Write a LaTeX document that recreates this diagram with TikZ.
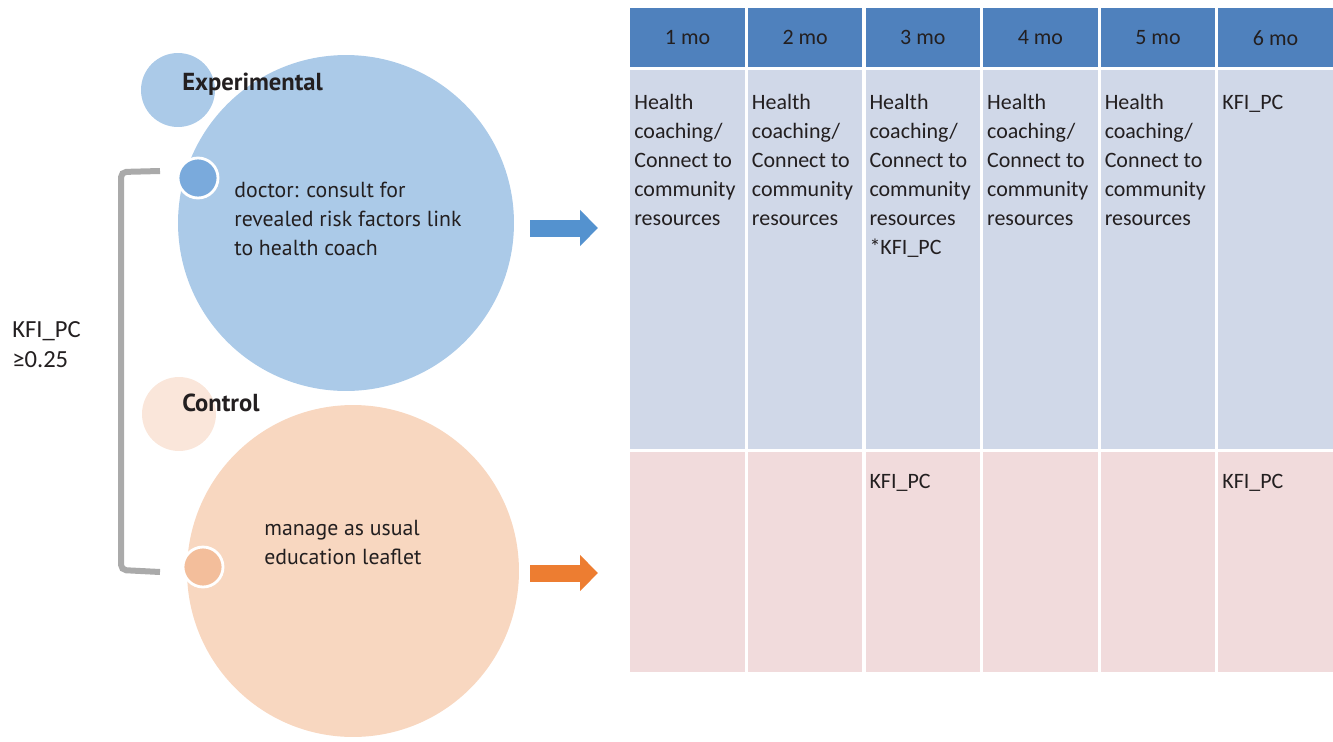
\documentclass[tikz,border=0pt]{standalone}
\usepackage{fontspec}
\setmainfont{Carlito}
\newfontfamily\labelfont{PT Sans}
\usetikzlibrary{positioning,arrows.meta}

\definecolor{bigblue}{RGB}{171,202,232}
\definecolor{dotblue}{RGB}{122,170,220}
\definecolor{bigpeach}{RGB}{248,215,192}
\definecolor{palepeach}{RGB}{250,230,218}
\definecolor{dotpeach}{RGB}{243,190,155}
\definecolor{arrowblue}{RGB}{84,146,207}
\definecolor{arroworange}{RGB}{237,125,49}
\definecolor{headblue}{RGB}{79,129,189}
\definecolor{expfill}{RGB}{208,216,232}
\definecolor{ctlfill}{RGB}{241,219,220}
\definecolor{bracketgray}{RGB}{170,170,170}
\definecolor{ink}{RGB}{35,31,32}

\begin{document}
\begin{tikzpicture}[x=0.02cm,y=-0.02cm,text=ink]
  \tikzstyle{disc}=[circle,inner sep=0pt]
  \tikzstyle{dot}=[circle,draw=white,line width=1.6pt,minimum size=0.8cm,inner sep=0pt]
  \tikzstyle{cell}=[anchor=north west,inner sep=0pt,minimum width=2.29cm]
  \tikzstyle{celltext}=[anchor=base west,align=left,inner sep=0pt,font=\fontsize{12.5}{16.5}\selectfont]
  \tikzstyle{grouplabel}=[anchor=base west,inner sep=0pt,font=\labelfont\bfseries\fontsize{14}{17}\selectfont]
  \tikzstyle{circletext}=[anchor=base west,align=left,inner sep=0pt,font=\labelfont\fontsize{12.4}{16.5}\selectfont]
  \tikzstyle{blockarrow}=[line width=0.34cm,-{Triangle[length=0.36cm,width=0.7cm]}]

  \useasboundingbox (0,0) rectangle (1333,741);

  % groups
  \node[disc,fill=bigblue,minimum size=1.48cm] (expsmall) at (178,90) {};
  \node[disc,fill=bigblue,minimum size=6.72cm] (exp) at (346,223) {};
  \node[dot,fill=dotblue] (expdot) at (198,178) {};
  \node[disc,fill=palepeach,minimum size=1.48cm] (ctlsmall) at (179,414) {};
  \node[disc,fill=bigpeach,minimum size=6.64cm] (ctl) at (353,571) {};
  \node[dot,fill=dotpeach] (ctldot) at (203,567) {};

  % base anchor sits on the last line
  \node[grouplabel] (explabel) at (182,90) {Experimental};
  \node[grouplabel] (ctllabel) at (182,411) {Control};
  \node[circletext] (exptext) at (234,255) {doctor: consult for\\revealed risk factors link\\to health coach};
  \node[circletext] (ctltext) at (264,564) {manage as usual\\education leaflet};

  % bracket
  \draw[bracketgray,line width=0.12cm,rounded corners=3pt] (160,171) -- (121,172) -- (121,570) -- (160,572);
  \node[anchor=base west,align=left,inner sep=0pt,font=\fontsize{14}{17}\selectfont] (cutoff) at (12,367) {KFI\_PC\\≥0.25};

  % arrows
  \coordinate (expfrom) at (530,228);
  \coordinate (expto) at (598,228);
  \coordinate (ctlfrom) at (530,573);
  \coordinate (ctlto) at (598,573);
  \draw[blockarrow,arrowblue] (expfrom) -- (expto);
  \draw[blockarrow,arroworange] (ctlfrom) -- (ctlto);

  % table
  \foreach \i in {1,...,6} {
    \node[cell,fill=headblue,minimum height=1.18cm,font=\fontsize{12.5}{15}\selectfont] (h\i) at ({630+117.6*(\i-1)},8) {\i\ mo};
    \node[cell,fill=expfill,minimum height=7.58cm] (e\i) at ({630+117.6*(\i-1)},70) {};
    \node[cell,fill=ctlfill,minimum height=4.4cm] (c\i) at ({630+117.6*(\i-1)},452) {};
  }
  \foreach \i in {1,2,4,5}
    \node[celltext] (et\i) at ({634+117.6*(\i-1)},225) {Health\\coaching/\\Connect to\\community\\resources};
  \node[celltext] (et3) at (869.2,254) {Health\\coaching/\\Connect to\\community\\resources\\*KFI\_PC};
  \node[celltext] (et6) at (1222,109) {KFI\_PC};
  \node[celltext] (ct3) at (869.2,488) {KFI\_PC};
  \node[celltext] (ct6) at (1222,488) {KFI\_PC};

\end{tikzpicture}
\end{document}
